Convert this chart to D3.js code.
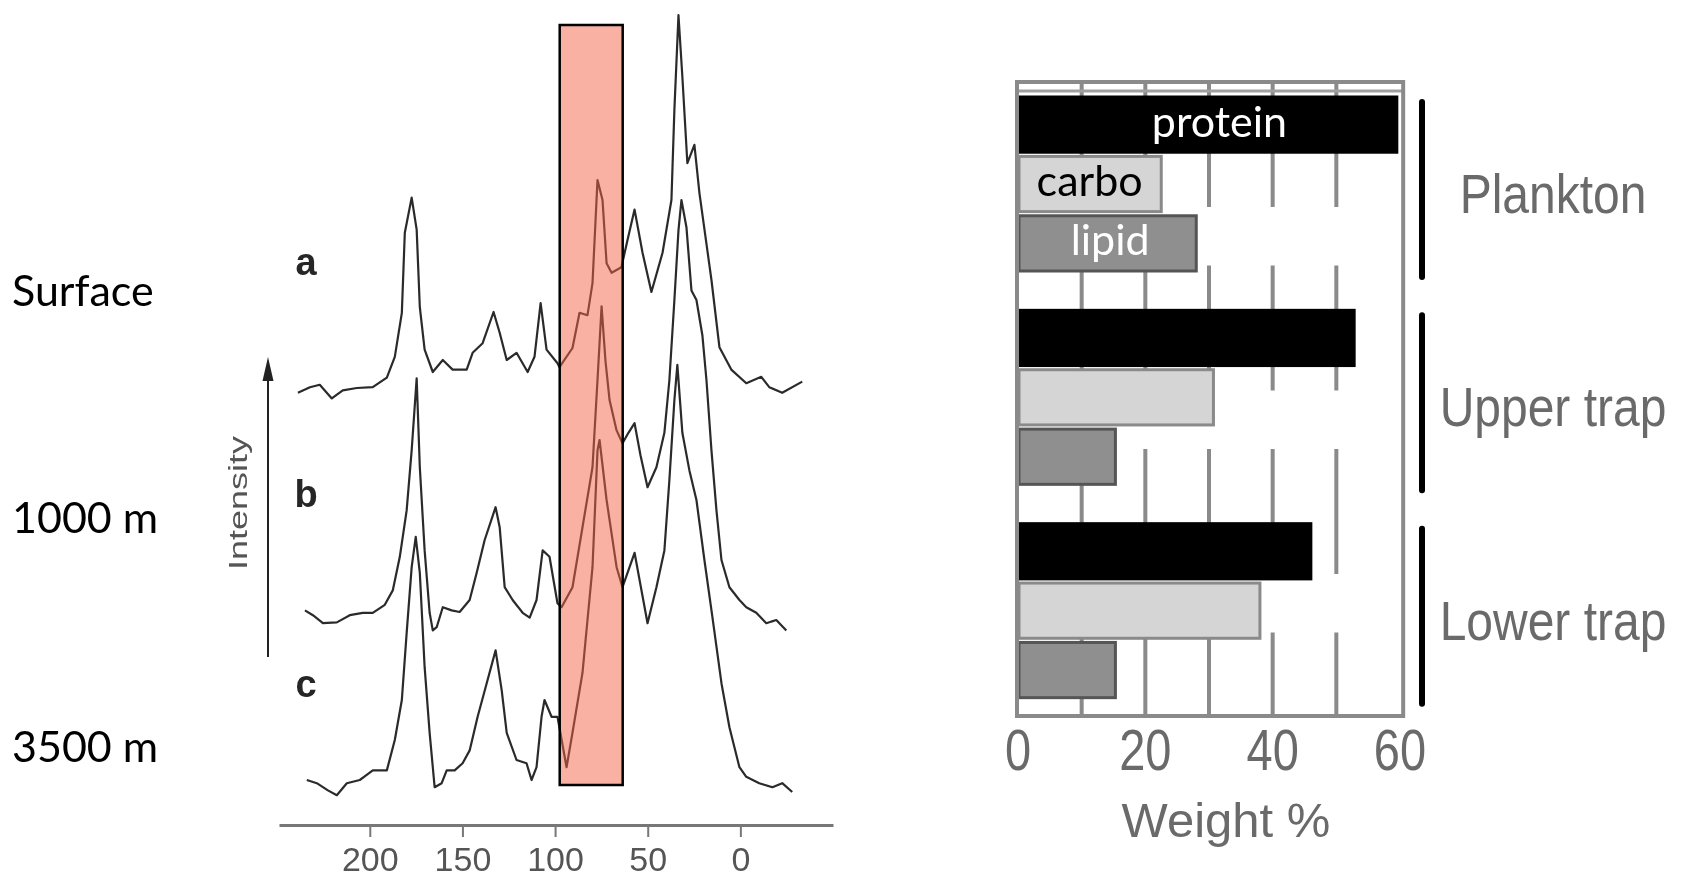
<!DOCTYPE html>
<html>
<head>
<meta charset="utf-8">
<script src="https://cdn.jsdelivr.net/npm/d3@7"></script>
<style>
  body { margin: 0; background: #fff; }
  svg { display: block; }
</style>
</head>
<body>
<div id="chart"></div>
<script>
// 13C NMR spectra, [ppm, intensity]
var traceA = [[238.8,-0.6],[232.3,0.1],[227.0,0.4],[220.5,-1.3],[214.6,-0.3],[207.0,0],[198.4,0.1],[190.8,1.3],[186.5,3.9],[182.7,9.4],[181.1,19.4],[177.4,23.8],[174.7,19.8],[173.0,10.1],[170.4,4.8],[166.0,2.0],[160.6,3.5],[155.3,2.3],[147.7,2.3],[144.5,4.4],[139.1,5.6],[133.2,9.5],[129.9,6.9],[126.1,3.5],[120.8,4.4],[114.8,2.0],[111.1,3.9],[107.8,10.6],[104.6,4.8],[98.7,3.1],[97.6,2.6],[90.6,5.0],[86.8,9.4],[82.5,9.1],[79.8,13.1],[77.1,26.0],[74.4,23.5],[72.2,15.6],[69.5,14.4],[64.2,15.1],[60.9,18.5],[57.1,22.3],[52.8,16.9],[48.0,12.0],[42.0,16.9],[37.2,23.5],[35.6,34.8],[33.4,46.6],[31.3,38.9],[28.6,28.1],[24.8,30.4],[22.1,24.4],[15.6,13.5],[11.3,5.1],[4.9,2.3],[-3.2,0.6],[-11.3,1.4],[-15.6,0.1],[-22.6,-0.6],[-33.4,0.8]];
var traceB = [[235.0,0.6],[230.7,0],[225.3,-1.0],[217.8,-0.9],[210.8,0],[203.8,0.3],[198.4,0.3],[191.9,1.3],[187.6,3.1],[183.8,7.3],[180.1,13.1],[177.4,20.6],[174.7,29.6],[173.0,18.5],[170.4,8.1],[167.7,0.3],[166.0,-1.9],[163.9,-1.5],[160.6,1.0],[155.8,0.6],[151.5,0.4],[146.1,1.9],[142.3,5.3],[138.0,9.4],[132.1,13.5],[129.9,11.0],[127.2,3.5],[122.9,1.9],[117.5,0.3],[113.7,-0.3],[110.0,1.9],[106.7,8.1],[103.0,7.3],[98.7,1.5],[96.5,1.0],[90.6,3.5],[85.2,11.0],[79.8,18.5],[77.1,29.4],[74.9,38.6],[72.8,31.8],[70.6,26.9],[66.8,23.1],[63.6,21.5],[60.4,22.8],[57.1,24.0],[53.9,20.0],[50.1,16.0],[45.3,18.5],[41.0,22.8],[38.3,29.4],[35.6,39.4],[33.4,48.1],[31.8,51.9],[29.1,48.5],[26.4,40.6],[23.7,39.4],[20.5,35.0],[18.3,29.4],[15.6,20.6],[12.9,13.1],[10.2,6.9],[5.9,3.5],[0.5,1.9],[-3.2,1.0],[-8.6,0.3],[-14.0,-1.0],[-19.4,-0.6],[-24.8,-1.9]];
var traceC = [[234.0,0.4],[228.6,0],[222.6,-0.9],[217.8,-1.5],[212.4,0],[205.4,0.4],[198.4,1.6],[190.8,1.6],[186.5,5.4],[182.7,10.4],[180.1,18.8],[177.4,27.0],[175.2,30.8],[173.0,26.3],[170.4,14.5],[167.7,6.3],[165.0,-0.5],[161.2,0],[158.5,1.6],[154.2,1.6],[149.9,2.5],[146.1,4.1],[141.8,8.3],[136.9,12.5],[132.1,16.6],[128.8,11.6],[126.1,6.3],[120.8,2.9],[115.4,2.5],[112.7,0.4],[110.0,2.0],[107.3,8.3],[105.7,10.4],[101.9,8.3],[98.7,8.3],[93.8,2.0],[90.6,6.3],[85.2,13.8],[79.8,27.0],[77.1,41.6],[76.0,42.9],[72.2,35.4],[66.8,27.0],[63.6,24.5],[57.1,28.8],[50.1,20.0],[45.3,24.5],[41.0,29.1],[38.3,37.9],[35.6,47.9],[34.0,52.3],[31.3,43.8],[27.5,39.1],[23.7,35.4],[19.4,27.9],[15.1,20.8],[10.2,12.5],[5.9,7.0],[0.5,2.0],[-3.2,0.8],[-10.2,0],[-17.3,-0.5],[-22.6,0],[-28.0,-1.1]];
var traceLetters = ['a', 'b', 'c'];
var depthLabels = ['Surface', '1000 m', '3500 m'];
var ppmTicks = [200, 150, 100, 50, 0];
var highlightPpm = [97.5, 63.5];

// composition bars, weight %
var groups = ['Plankton', 'Upper trap', 'Lower trap'];
var nutrients = ['protein', 'carbo', 'lipid'];
var protein = [59.5, 52.8, 46.0];
var carbo = [22.5, 30.7, 38.0];
var lipid = [28.0, 15.3, 15.3];
var weightTicks = [0, 20, 40, 60];
var gridTicks = [10, 20, 30, 40, 50];

var width = 1683;
var height = 878;
var helv = 'Liberation Sans, Arial, sans-serif';
var calib = 'Lato, Open Sans, sans-serif';

var svg = d3.select('#chart')
  .append('svg')
  .attr('width', width)
  .attr('height', height);

svg.append('rect').attr('width', width).attr('height', height).attr('fill', '#fff');

var defs = svg.append('defs');
defs.append('filter').attr('id', 'soft')
  .append('feGaussianBlur').attr('stdDeviation', 0.7);

// ---------- spectra ----------
var x = d3.scaleLinear().domain([249, -50]).range([279, 833]);
var y = d3.scaleLinear().domain([0, 100]).range([800, 0]);
var traceOffsets = [51.5, 23.1, 2.1];
var traces = [traceA, traceB, traceC];

var line = d3.line()
  .x(function(d) { return x(d[0]); })
  .y(function(d) { return y(d[1]); });

var spec = svg.append('g').attr('filter', 'url(#soft)');

traces.forEach(function(t, i) {
  spec.append('path')
    .datum(t.map(function(p) { return [p[0], p[1] + traceOffsets[i]]; }))
    .attr('d', line)
    .attr('fill', 'none')
    .attr('stroke', '#2b2b2b')
    .attr('stroke-width', 2.2)
    .attr('stroke-linejoin', 'round');
});

var gx = spec.append('g')
  .attr('transform', 'translate(0,825)')
  .call(d3.axisBottom(x).tickValues(ppmTicks).tickSize(12).tickSizeOuter(0));
gx.select('.domain').attr('stroke', '#777').attr('stroke-width', 3);
gx.selectAll('.tick line').attr('stroke', '#777').attr('stroke-width', 2);
gx.selectAll('.tick text')
  .attr('y', 22)
  .attr('fill', '#555')
  .attr('font-size', 34)
  .attr('font-family', helv);

spec.selectAll('.letter')
  .data(traceLetters)
  .enter().append('text')
  .attr('x', 306)
  .attr('y', function(d, i) { return [275, 507, 697][i]; })
  .attr('text-anchor', 'middle')
  .attr('font-family', helv)
  .attr('font-weight', 'bold')
  .attr('font-size', 38)
  .attr('fill', '#262626')
  .text(function(d) { return d; });

// intensity arrow
spec.append('line')
  .attr('x1', 268).attr('x2', 268)
  .attr('y1', 657).attr('y2', 372)
  .attr('stroke', '#222').attr('stroke-width', 2);
spec.append('path')
  .attr('d', 'M268,357L262.5,381L273.5,381Z')
  .attr('fill', '#222');
spec.append('text')
  .attr('transform', 'translate(247,503) rotate(-90)')
  .attr('text-anchor', 'middle')
  .attr('font-family', helv)
  .attr('font-size', 26)
  .attr('textLength', 134)
  .attr('lengthAdjust', 'spacingAndGlyphs')
  .attr('fill', '#555')
  .text('Intensity');

// highlighted region
var hx0 = x(highlightPpm[0]);
var hx1 = x(highlightPpm[1]);
svg.append('rect')
  .attr('x', hx0).attr('y', 25)
  .attr('width', hx1 - hx0).attr('height', 760)
  .attr('fill', 'rgb(243,100,74)')
  .attr('fill-opacity', 0.5);
svg.append('rect')
  .attr('x', hx0).attr('y', 25)
  .attr('width', hx1 - hx0).attr('height', 760)
  .attr('fill', 'none')
  .attr('stroke', '#000')
  .attr('stroke-width', 2.5);

// depth labels
svg.selectAll('.depth')
  .data(depthLabels)
  .enter().append('text')
  .attr('x', 12)
  .attr('y', function(d, i) { return [306, 533, 762][i]; })
  .attr('font-family', calib)
  .attr('font-size', 43)
  .attr('fill', '#000')
  .text(function(d) { return d; });

// ---------- bars ----------
var wx = d3.scaleLinear().domain([0, 60]).range([1018, 1400]);
var gy = d3.scaleBand().domain(groups).range([82, 722]);
var ny = d3.scaleBand().domain(nutrients).range([15, 189]).paddingInner(0.07);
var values = { protein: protein, carbo: carbo, lipid: lipid };
var barFill = { protein: '#000', carbo: '#d5d5d5', lipid: '#8f8f8f' };
var barStroke = { protein: '#000', carbo: '#8a8a8a', lipid: '#555' };
var labelFill = { protein: '#fff', carbo: '#000', lipid: '#fff' };
var labelDx = { protein: 12, carbo: 0, lipid: 3 };

var bars = svg.append('g').attr('filter', 'url(#soft)');

bars.selectAll('.grid')
  .data(gridTicks)
  .enter().append('line')
  .attr('x1', function(d) { return wx(d); })
  .attr('x2', function(d) { return wx(d); })
  .attr('y1', 82).attr('y2', 716)
  .attr('stroke', '#8a8a8a')
  .attr('stroke-width', 4)
  .attr('stroke-dasharray', '125 58.5');

bars.append('line')
  .attr('x1', wx(0)).attr('x2', wx(60.5))
  .attr('y1', 91).attr('y2', 91)
  .attr('stroke', '#a0a0a0').attr('stroke-width', 3);

groups.forEach(function(g, i) {
  nutrients.forEach(function(n) {
    bars.append('rect')
      .attr('x', wx(0) + 1)
      .attr('y', gy(g) + ny(n))
      .attr('width', wx(values[n][i]) - wx(0) - 1)
      .attr('height', ny.bandwidth())
      .attr('fill', barFill[n])
      .attr('stroke', barStroke[n])
      .attr('stroke-width', 3);
  });
});

bars.append('rect')
  .attr('x', wx(0) - 1).attr('y', 82)
  .attr('width', wx(60.5) - wx(0) + 1).attr('height', 634)
  .attr('fill', 'none')
  .attr('stroke', '#8a8a8a')
  .attr('stroke-width', 4);

// group brackets and names
bars.selectAll('.bracket')
  .data(groups)
  .enter().append('line')
  .attr('x1', 1422).attr('x2', 1422)
  .attr('y1', function(d) { return gy(d) + 20; })
  .attr('y2', function(d) { return gy(d) + 195; })
  .attr('stroke', '#000')
  .attr('stroke-width', 6)
  .attr('stroke-linecap', 'round');

bars.selectAll('.gname')
  .data(groups)
  .enter().append('text')
  .attr('transform', function(d) { return 'translate(1553,' + (gy(d) + 131) + ') scale(1,1.17)'; })
  .attr('text-anchor', 'middle')
  .attr('font-family', helv)
  .attr('font-size', 48)
  .attr('fill', '#6a6a6a')
  .text(function(d) { return d; });

bars.selectAll('.wtick')
  .data(weightTicks)
  .enter().append('text')
  .attr('transform', function(d) { return 'translate(' + wx(d) + ',770) scale(1,1.24)'; })
  .attr('text-anchor', 'middle')
  .attr('font-family', helv)
  .attr('font-size', 47)
  .attr('fill', '#6a6a6a')
  .text(function(d) { return d; });

bars.append('text')
  .attr('x', 1226).attr('y', 837)
  .attr('text-anchor', 'middle')
  .attr('font-family', helv)
  .attr('font-size', 49)
  .attr('fill', '#6a6a6a')
  .text('Weight %');

// nutrient labels inside the plankton bars
svg.selectAll('.nlabel')
  .data(nutrients)
  .enter().append('text')
  .attr('x', function(d) { return wx(values[d][0] / 2) + labelDx[d]; })
  .attr('y', function(d) { return gy(groups[0]) + ny(d) + ny.bandwidth() / 2 + 12; })
  .attr('text-anchor', 'middle')
  .attr('font-family', calib)
  .attr('font-size', 43)
  .attr('fill', function(d) { return labelFill[d]; })
  .text(function(d) { return d; });
</script>
</body>
</html>
